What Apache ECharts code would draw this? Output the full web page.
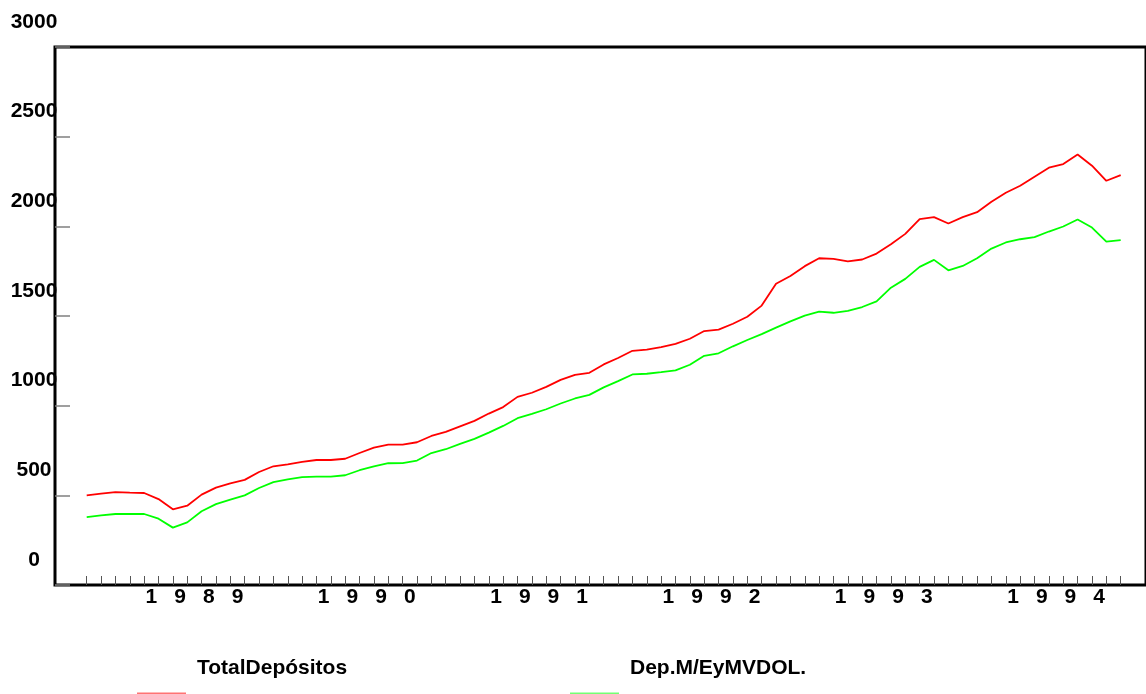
<!DOCTYPE html>
<html>
<head>
<meta charset="utf-8">
<script src="https://cdn.jsdelivr.net/npm/echarts@6/dist/echarts.min.js"></script>
<style>
html,body{margin:0;padding:0;background:#fff;}
#chart{width:1146px;height:694px;}
</style>
</head>
<body>
<div id="chart"></div>
<script>
// Monthly categories: Nov 1988 .. Nov 1994 (73 months)
const months = [];
for (let k = 0; k < 73; k++) {
  const m = (10 + k) % 12, y = 1988 + Math.floor((10 + k) / 12);
  months.push(y + '-' + String(m + 1).padStart(2, '0'));
}
const yearLabels = ['1989', '1990', '1991', '1992', '1993', '1994'];
const yTicks = [0, 500, 1000, 1500, 2000, 2500, 3000];

const totalDepositos = [
  500, 509, 518, 515, 513, 479, 422, 442, 504, 543, 567, 586, 630, 662, 673, 686, 697, 697, 704,
  736, 766, 783, 783, 796, 831, 854, 885, 915, 956, 992, 1049, 1072, 1105, 1144, 1172, 1183, 1230, 1266,
  1306, 1312, 1327, 1345, 1373, 1416, 1424, 1457, 1496, 1558, 1680, 1723, 1778, 1822, 1818, 1805, 1815, 1848,
  1900, 1958, 2040, 2051, 2016, 2051, 2079, 2137, 2187, 2226, 2277, 2327, 2347, 2401, 2338, 2254, 2286
];
const depMEyMVDOL = [
  379, 388, 396, 396, 396, 370, 320, 349, 411, 451, 476, 500, 541, 574, 589, 601, 604, 604, 612,
  640, 662, 679, 680, 694, 736, 757, 787, 815, 850, 887, 930, 954, 980, 1012, 1040, 1060, 1102, 1137,
  1174, 1178, 1187, 1197, 1228, 1278, 1292, 1331, 1366, 1399, 1435, 1470, 1502, 1524, 1518, 1528, 1550, 1582,
  1658, 1707, 1774, 1813, 1755, 1779, 1822, 1876, 1910, 1928, 1940, 1971, 1999, 2038, 1993, 1915, 1923
];

const FONT = "'Liberation Sans', Arial, Helvetica, sans-serif";
const chart = echarts.init(document.getElementById('chart'));

function legendCfg(name, left) {
  return {
    data: [name], left: left, top: 658, icon: 'rect', itemWidth: 49, itemHeight: 14,
    selectedMode: false, padding: 0,
    itemStyle: { opacity: 0.55 },
    formatter: n => '{t|' + n + '}',
    textStyle: { rich: { t: { fontFamily: FONT, fontSize: 21, lineHeight: 24, fontWeight: 'bold', color: '#000', padding: [0, 0, 62, 6] } } }
  };
}

chart.setOption({
  backgroundColor: '#fff',
  animation: false,
  grid: [
    { left: 55, top: 47, right: -20, bottom: 109, show: true, borderColor: '#000', borderWidth: 3, backgroundColor: 'transparent' },
    { left: 86.7, top: 47, right: 25.3, bottom: 109 }
  ],
  legend: [legendCfg('TotalDepósitos', 137), legendCfg('Dep.M/EyMVDOL.', 570)],
  xAxis: [
    { gridIndex: 0, type: 'value', show: false, min: 0, max: 1 },
    {
      gridIndex: 1, type: 'category', data: months, boundaryGap: false,
      axisLine: { show: false },
      axisTick: { show: true, inside: true, length: 9, interval: 0, lineStyle: { color: '#555', width: 1 } },
      splitLine: { show: false },
      axisLabel: {
        interval: 0, margin: 2,
        formatter: (v, i) => {
          if ((i - 7) % 12 !== 0) return '';
          const yr = yearLabels[(i - 7) / 12];
          if (!yr) return '';
          return '{s|}' + yr.split('').map(c => '{d|' + c + '}').join('');
        },
        rich: {
          s: { width: 14.4 },
          d: { width: 28.7, align: 'center', fontFamily: FONT, fontSize: 21, fontWeight: 'bold', color: '#000' }
        }
      }
    }
  ],
  yAxis: [
    {
      gridIndex: 0, type: 'value', min: 0, max: 3000, interval: 500,
      axisLine: { show: false },
      axisTick: { show: true, inside: true, length: 15, lineStyle: { color: '#808080', width: 1.5 } },
      splitLine: { show: false },
      axisLabel: {
        margin: 21, align: 'center', verticalAlign: 'middle',
        formatter: v => yTicks.indexOf(v) >= 0 ? '{a|' + v + '}' : '',
        rich: { a: { fontFamily: FONT, fontSize: 21, lineHeight: 24, fontWeight: 'bold', color: '#000', padding: [0, 0, 50, 0] } }
      }
    },
    { gridIndex: 1, type: 'value', min: 0, max: 3000, show: false }
  ],
  series: [
    {
      name: 'TotalDepósitos', type: 'line', xAxisIndex: 1, yAxisIndex: 1, data: totalDepositos,
      showSymbol: false, symbol: 'none', color: '#ff0000', lineStyle: { color: '#ff0000', width: 1.8 }
    },
    {
      name: 'Dep.M/EyMVDOL.', type: 'line', xAxisIndex: 1, yAxisIndex: 1, data: depMEyMVDOL,
      showSymbol: false, symbol: 'none', color: '#00ff00', lineStyle: { color: '#00ff00', width: 1.8 }
    }
  ]
});
</script>
</body>
</html>
